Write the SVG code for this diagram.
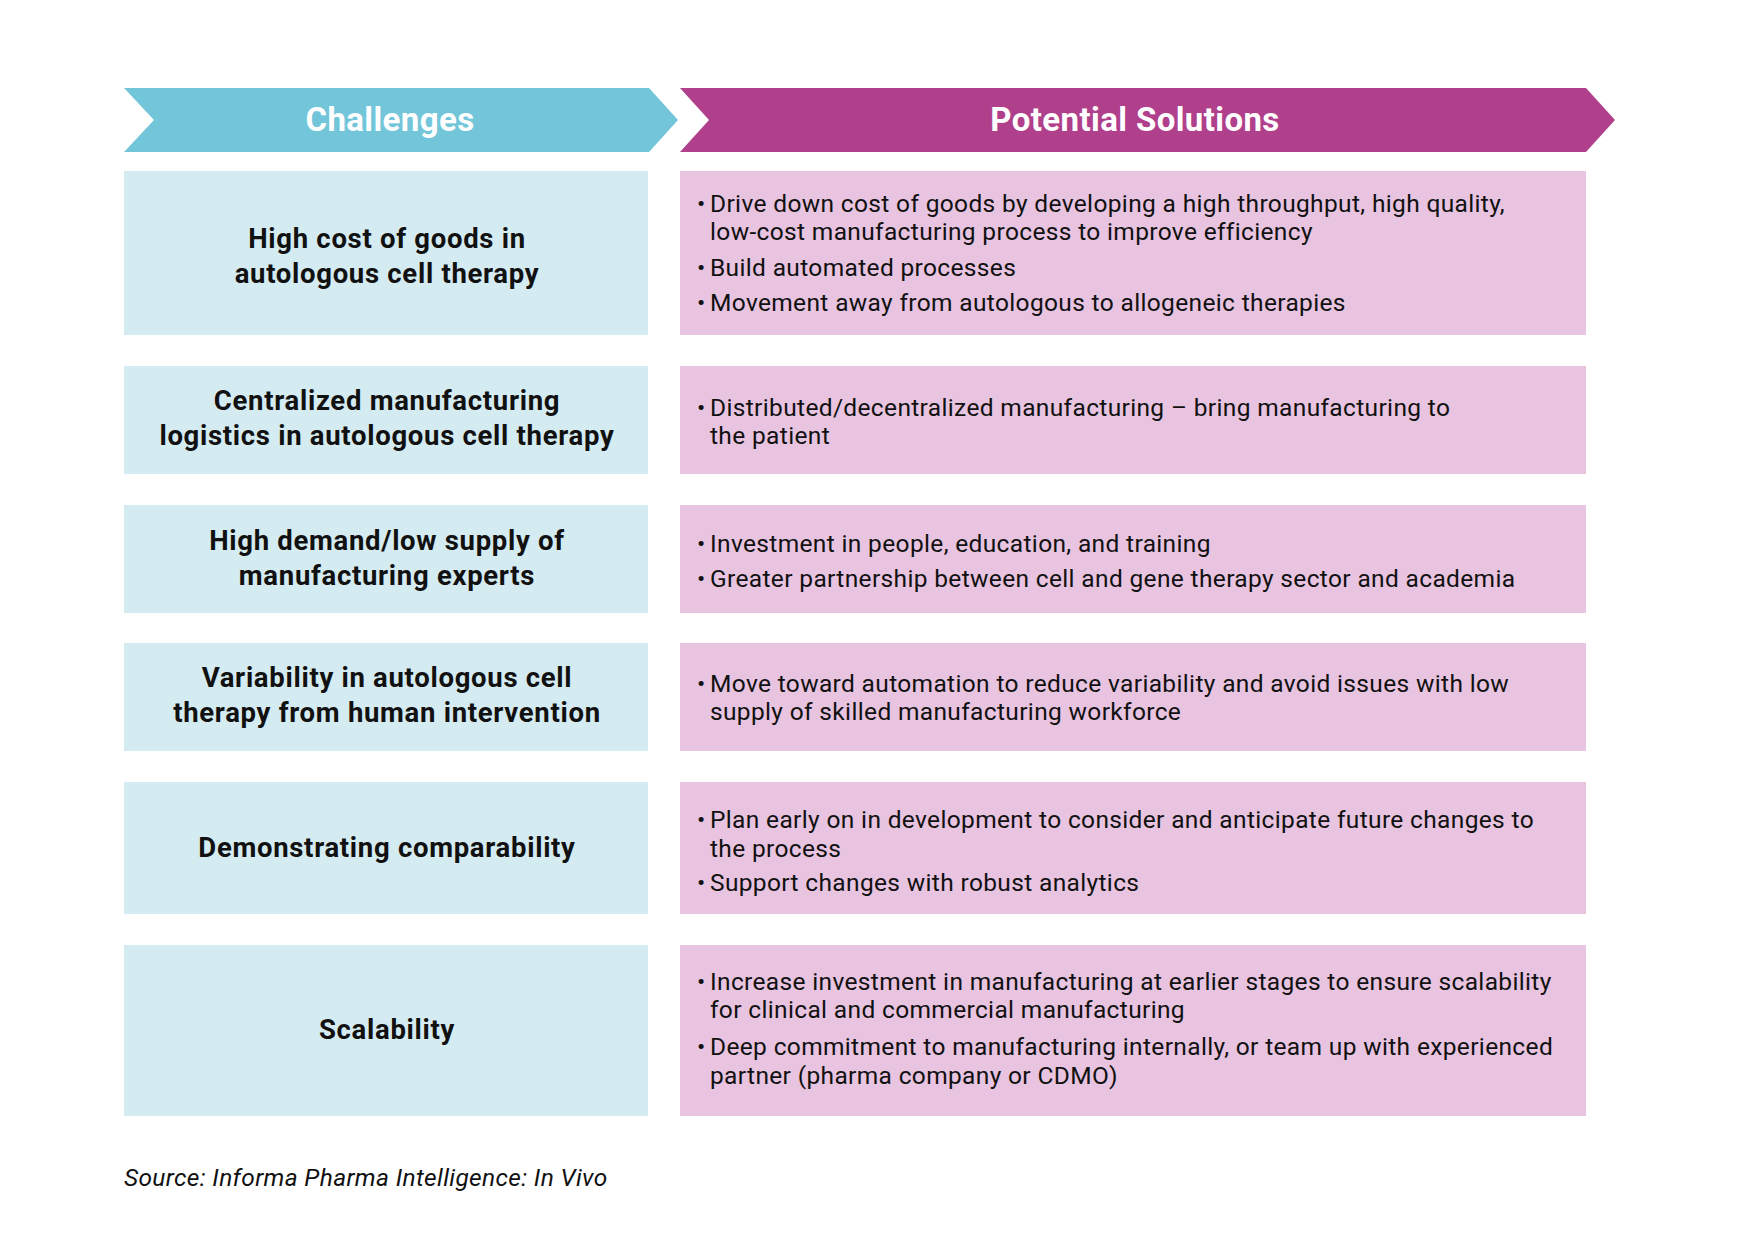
<svg xmlns="http://www.w3.org/2000/svg" width="1754" height="1240" viewBox="0 0 1754 1240">
<style>
.hdr{font-family:Roboto,"Liberation Sans",sans-serif;font-weight:700;font-size:33px;letter-spacing:0.4px;fill:#ffffff;text-anchor:middle}
.ch{fill:#d5ebf2}
.so{fill:#e8c4e0}
.ct{font-family:Roboto,"Liberation Sans",sans-serif;font-weight:700;font-size:27.5px;letter-spacing:0.7px;fill:#111111;text-anchor:middle}
.st{font-family:Roboto,"Liberation Sans",sans-serif;font-weight:400;font-size:24.5px;letter-spacing:0.35px;fill:#111111}
.src{font-family:Roboto,"Liberation Sans",sans-serif;font-style:italic;font-size:24.5px;letter-spacing:0.35px;fill:#111111}
</style>
<rect width="1754" height="1240" fill="#ffffff"/>
<g id="header-challenges">
<polygon points="124,88 649,88 678,120 649,152 124,152 154,120" fill="#73c6d9"/>
<text class="hdr" x="390" y="131">Challenges</text>
</g>
<g id="header-solutions">
<polygon points="680,88 1586,88 1615,120 1586,152 680,152 709,120" fill="#b03f8c"/>
<text class="hdr" x="1135" y="131">Potential Solutions</text>
</g>
<g id="connectors"></g>

<g id="challenge-1">
<rect class="ch" x="124" y="171" width="524" height="164"/>
<text class="ct" x="387" y="248">High cost of goods in</text>
<text class="ct" x="387" y="283">autologous cell therapy</text>
</g>
<g id="solution-1">
<rect class="so" x="680" y="171" width="906" height="164"/>
<text class="st" x="697" y="212">•</text>
<text class="st" x="710" y="212">Drive down cost of goods by developing a high throughput, high quality,</text>
<text class="st" x="710" y="240">low-cost manufacturing process to improve efficiency</text>
<text class="st" x="697" y="276">•</text>
<text class="st" x="710" y="276">Build automated processes</text>
<text class="st" x="697" y="311">•</text>
<text class="st" x="710" y="311">Movement away from autologous to allogeneic therapies</text>
</g>

<g id="challenge-2">
<rect class="ch" x="124" y="366" width="524" height="108"/>
<text class="ct" x="387" y="410">Centralized manufacturing</text>
<text class="ct" x="387" y="445">logistics in autologous cell therapy</text>
</g>
<g id="solution-2">
<rect class="so" x="680" y="366" width="906" height="108"/>
<text class="st" x="697" y="416">•</text>
<text class="st" x="710" y="416">Distributed/decentralized manufacturing – bring manufacturing to</text>
<text class="st" x="710" y="444">the patient</text>
</g>

<g id="challenge-3">
<rect class="ch" x="124" y="505" width="524" height="108"/>
<text class="ct" x="387" y="550">High demand/low supply of</text>
<text class="ct" x="387" y="585">manufacturing experts</text>
</g>
<g id="solution-3">
<rect class="so" x="680" y="505" width="906" height="108"/>
<text class="st" x="697" y="552">•</text>
<text class="st" x="710" y="552">Investment in people, education, and training</text>
<text class="st" x="697" y="587">•</text>
<text class="st" x="710" y="587">Greater partnership between cell and gene therapy sector and academia</text>
</g>

<g id="challenge-4">
<rect class="ch" x="124" y="643" width="524" height="108"/>
<text class="ct" x="387" y="687">Variability in autologous cell</text>
<text class="ct" x="387" y="722">therapy from human intervention</text>
</g>
<g id="solution-4">
<rect class="so" x="680" y="643" width="906" height="108"/>
<text class="st" x="697" y="692">•</text>
<text class="st" x="710" y="692">Move toward automation to reduce variability and avoid issues with low</text>
<text class="st" x="710" y="720">supply of skilled manufacturing workforce</text>
</g>

<g id="challenge-5">
<rect class="ch" x="124" y="782" width="524" height="132"/>
<text class="ct" x="387" y="857">Demonstrating comparability</text>
</g>
<g id="solution-5">
<rect class="so" x="680" y="782" width="906" height="132"/>
<text class="st" x="697" y="828">•</text>
<text class="st" x="710" y="828">Plan early on in development to consider and anticipate future changes to</text>
<text class="st" x="710" y="857">the process</text>
<text class="st" x="697" y="891">•</text>
<text class="st" x="710" y="891">Support changes with robust analytics</text>
</g>

<g id="challenge-6">
<rect class="ch" x="124" y="945" width="524" height="171"/>
<text class="ct" x="387" y="1039">Scalability</text>
</g>
<g id="solution-6">
<rect class="so" x="680" y="945" width="906" height="171"/>
<text class="st" x="697" y="990">•</text>
<text class="st" x="710" y="990">Increase investment in manufacturing at earlier stages to ensure scalability</text>
<text class="st" x="710" y="1018">for clinical and commercial manufacturing</text>
<text class="st" x="697" y="1055">•</text>
<text class="st" x="710" y="1055">Deep commitment to manufacturing internally, or team up with experienced</text>
<text class="st" x="710" y="1084">partner (pharma company or CDMO)</text>
</g>

<text class="src" x="124" y="1186">Source: Informa Pharma Intelligence: In Vivo</text>
</svg>
